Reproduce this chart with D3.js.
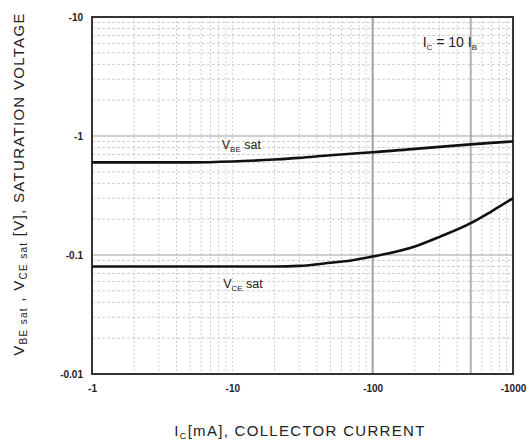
<!DOCTYPE html>
<html>
<head>
<meta charset="utf-8">
<script src="https://cdn.jsdelivr.net/npm/d3@7"></script>
<style>
  body { margin: 0; background: #fff; }
  text { font-family: "Liberation Sans", Arial, sans-serif; fill: #222; }
</style>
</head>
<body>
<div id="chart"></div>
<script>
// collector current (mA) and saturation voltages (|V|)
const currentIc = [1, 2, 5, 10, 20, 30, 50, 70, 100, 200, 300, 500, 700, 1000];
const vbeSat = [0.6, 0.6, 0.6, 0.61, 0.635, 0.655, 0.69, 0.71, 0.73, 0.78, 0.81, 0.85, 0.875, 0.9];
const vceSat = [0.08, 0.08, 0.08, 0.08, 0.08, 0.081, 0.086, 0.09, 0.097, 0.118, 0.142, 0.185, 0.232, 0.30];

const xTicks = [1, 10, 100, 1000];
const xTickLabels = ["-1", "-10", "-100", "-1000"];
const yTicks = [0.01, 0.1, 1, 10];
const yTickLabels = ["-0.01", "-0.1", "-1", "-10"];

const c = { width: 528, height: 443, left: 92, right: 15, top: 17, bottom: 69 };
const w = c.width - c.left - c.right;
const h = c.height - c.top - c.bottom;

const svg = d3.select("#chart").append("svg")
  .attr("width", c.width)
  .attr("height", c.height);

const g = svg.append("g").attr("transform", `translate(${c.left},${c.top})`);

const x = d3.scaleLog().domain([1, 1000]).range([0, w]);
const y = d3.scaleLog().domain([0.01, 10]).range([h, 0]);

// minor grid (dashed)
const minorX = [];
for (let d = 1; d < 1000; d *= 10) for (let k = 2; k <= 9; k++) minorX.push(d * k);
const minorY = [];
for (let d = 0.01; d < 9; d *= 10) for (let k = 2; k <= 9; k++) minorY.push(d * k);

g.append("g").selectAll("line").data(minorX).join("line")
  .attr("x1", d => x(d)).attr("x2", d => x(d))
  .attr("y1", 0).attr("y2", h)
  .attr("stroke", d => d === 500 ? "#b0b0b0" : "#cdcdcd")
  .attr("stroke-width", d => d === 500 ? 2 : 1)
  .attr("stroke-dasharray", d => d === 500 ? null : "2,2");

g.append("g").selectAll("line").data(minorY).join("line")
  .attr("x1", 0).attr("x2", w)
  .attr("y1", d => y(d)).attr("y2", d => y(d))
  .attr("stroke", "#cdcdcd")
  .attr("stroke-dasharray", "3,2");

// decade lines
g.append("g").selectAll("line").data([10, 100]).join("line")
  .attr("x1", d => x(d)).attr("x2", d => x(d))
  .attr("y1", 0).attr("y2", h)
  .attr("stroke", d => d === 100 ? "#a0a0a0" : "#cdcdcd")
  .attr("stroke-width", d => d === 100 ? 2 : 1)
  .attr("stroke-dasharray", d => d === 100 ? null : "2,2");

g.append("g").selectAll("line").data([0.1, 1]).join("line")
  .attr("x1", 0).attr("x2", w)
  .attr("y1", d => y(d)).attr("y2", d => y(d))
  .attr("stroke", "#a0a0a0")
  .attr("stroke-width", 1.2);

// frame
g.append("rect")
  .attr("width", w).attr("height", h)
  .attr("fill", "none")
  .attr("stroke", "#333")
  .attr("stroke-width", 2);

// axes
const xAxis = d3.axisBottom(x).tickValues(xTicks)
  .tickFormat((d, i) => xTickLabels[i]).tickSize(0).tickPadding(11);
g.append("g").attr("transform", `translate(0,${h})`).call(xAxis)
  .call(s => s.select(".domain").remove())
  .selectAll("text").style("font-size", "10px").style("font-weight", "bold").attr("fill", "#333");

const yAxis = d3.axisLeft(y).tickValues(yTicks)
  .tickFormat((d, i) => yTickLabels[i]).tickSize(0).tickPadding(9);
g.append("g").call(yAxis)
  .call(s => s.select(".domain").remove())
  .selectAll("text").style("font-size", "10px").style("font-weight", "bold").attr("fill", "#333");

// curves
const line = vals => d3.line()
  .x((d, i) => x(currentIc[i]))
  .y(d => y(d))
  .curve(d3.curveMonotoneX)(vals);

g.append("path").attr("d", line(vbeSat))
  .attr("fill", "none").attr("stroke", "#111").attr("stroke-width", 2.6);
g.append("path").attr("d", line(vceSat))
  .attr("fill", "none").attr("stroke", "#111").attr("stroke-width", 2.6);

// curve labels
const lab1 = g.append("text").attr("x", x(8.4)).attr("y", y(0.68) - 7).style("font-size", "12.5px");
lab1.append("tspan").text("V");
lab1.append("tspan").text("BE").style("font-size", "8px").attr("dy", 3);
lab1.append("tspan").text(" sat").attr("dy", -3);

const lab2 = g.append("text").attr("x", x(8.6)).attr("y", y(0.08) + 21).style("font-size", "12.5px");
lab2.append("tspan").text("V");
lab2.append("tspan").text("CE").style("font-size", "8px").attr("dy", 3);
lab2.append("tspan").text(" sat").attr("dy", -3);

// condition
const cond = g.append("text").attr("x", w - 36).attr("y", 30)
  .attr("text-anchor", "end").style("font-size", "14px");
cond.append("tspan").text("I");
cond.append("tspan").text("C").style("font-size", "8px").attr("dy", 3);
cond.append("tspan").text(" = 10 I").attr("dy", -3);
cond.append("tspan").text("B").style("font-size", "8px").attr("dy", 3);

// axis titles
const xt = svg.append("text")
  .attr("x", 300).attr("y", 436)
  .attr("text-anchor", "middle").style("font-size", "15px").style("letter-spacing", "1.3px");
xt.append("tspan").text("I");
xt.append("tspan").text("C").style("font-size", "9px").attr("dy", 3);
xt.append("tspan").text("[mA], COLLECTOR CURRENT").attr("dy", -3);

const yt = svg.append("text")
  .attr("transform", `translate(24,${184}) rotate(-90)`)
  .attr("text-anchor", "middle").style("font-size", "15px").style("letter-spacing", "1.3px");
yt.append("tspan").text("V");
yt.append("tspan").text("BE sat").style("font-size", "10px").attr("dy", 3);
yt.append("tspan").text(" , V").attr("dy", -3);
yt.append("tspan").text("CE sat").style("font-size", "10px").attr("dy", 3);
yt.append("tspan").text(" [V], SATURATION VOLTAGE").attr("dy", -3);
</script>
</body>
</html>
